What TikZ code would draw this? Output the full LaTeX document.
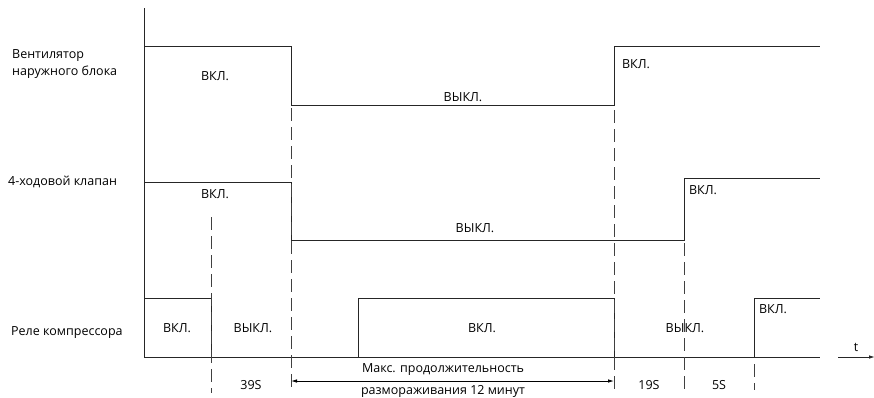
\documentclass[tikz,border=0pt]{standalone}
\usepackage{fontspec}
\setmainfont{Open Sans}
\usetikzlibrary{arrows.meta}
\begin{document}
\begin{tikzpicture}[x=1pt,y=-1pt,
  sig/.style={line width=0.9pt,black!85},
  dsh/.style={line width=0.8pt,black!75,dash pattern=on 13pt off 6pt},
  lbl/.style={font=\fontsize{12.5}{14}\selectfont,inner sep=0pt},
  side/.style={font=\fontsize{12.5}{17}\selectfont,inner sep=0pt,align=left,anchor=west},
  tip/.style={-{Latex[length=6pt,width=3.5pt]}}]
\useasboundingbox (0,0) rectangle (874,397);
% axis
\coordinate (axTop) at (144,8);
\coordinate (axBot) at (144,357);
\draw[sig] (axTop) -- (axBot);
% fan
\draw[sig] (144,46) -- (291,46) -- (291,105) -- (614,105) -- (614,46) -- (820,46);
% valve
\draw[sig] (144,182) -- (291,182) -- (291,240) -- (684,240) -- (684,178) -- (820,178);
% compressor
\draw[sig] (144,298) -- (211,298) -- (211,357);
\draw[sig] (axBot) -- (820,357);
\draw[sig] (358,357) -- (358,298) -- (614,298) -- (614,357);
\draw[sig] (754,357) -- (754,298) -- (820,298);
% t axis arrow
\coordinate (tS) at (838,357);
\coordinate (tE) at (875,357);
\draw[sig,tip] (tS) -- (tE);
\node[lbl] (t) at (856,347) {t};
% dashed lines
\draw[dsh] (211,217) -- (211,393);
\draw[dsh] (291,108) -- (291,390);
\draw[dsh] (614,110) -- (614,390);
\draw[dsh] (684,243) -- (684,390);
\draw[dsh] (754,364) -- (754,390);
% dimension
\coordinate (dA) at (291,381);
\coordinate (dB) at (614,381);
\draw[line width=0.8pt,{Latex[length=6pt,width=3.5pt]}-{Latex[length=6pt,width=3.5pt]}] (dA) -- (dB);
\node[lbl] (m1) at (443,370) {Макс. продолжительность};
\node[lbl] (m2) at (443,391) {размораживания 12 минут};
\node[lbl] (s39) at (251,385) {39S};
\node[lbl] (s19) at (649,385) {19S};
\node[lbl] (s5) at (719,385) {5S};
% state labels
\node[lbl] (f1) at (215,76) {ВКЛ.};
\node[lbl] (f2) at (463,97) {ВЫКЛ.};
\node[lbl] (f3) at (636,64) {ВКЛ.};
\node[lbl] (v1) at (215,194) {ВКЛ.};
\node[lbl] (v2) at (475,228) {ВЫКЛ.};
\node[lbl] (v3) at (703,190) {ВКЛ.};
\node[lbl] (c1) at (177,328) {ВКЛ.};
\node[lbl] (c2) at (253,328) {ВЫКЛ.};
\node[lbl] (c3) at (482,328) {ВКЛ.};
\node[lbl] (c4) at (685,328) {ВЫКЛ.};
\node[lbl] (c5) at (773,309) {ВКЛ.};
% side labels
\node[side] (n1) at (12,64) {Вентилятор\\наружного блока};
\node[side] (n2) at (8,182) {4-ходовой клапан};
\node[side] (n3) at (11,333) {Реле компрессора};
\end{tikzpicture}
\end{document}
